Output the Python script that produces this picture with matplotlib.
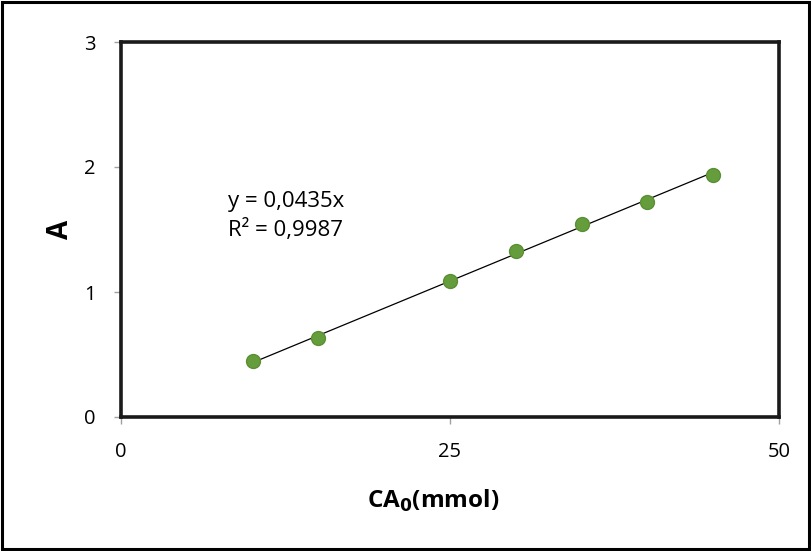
import numpy as np
import matplotlib.pyplot as plt
from matplotlib.patches import Rectangle

plt.rcParams['font.family'] = ['Open Sans', 'DejaVu Sans']

# data
conc = [10, 15, 25, 30, 35, 40, 45]
absorb = [0.449, 0.632, 1.091, 1.327, 1.545, 1.722, 1.936]
slope = 0.0435
xticks = [0, 25, 50]
yticks = [0, 1, 2, 3]

fig = plt.figure(figsize=(8.11, 5.51), dpi=100)
ax = fig.add_axes([121/811, 1 - 417/551, (779-121)/811, (417-42)/551])

# outer frame
fig.patches.append(Rectangle((0.002, 0.003), 0.996, 0.994, transform=fig.transFigure,
                             fill=False, edgecolor='black', linewidth=2.2))

xfit = np.array([conc[0], conc[-1]])
ax.plot(xfit, slope * xfit, color='black', linewidth=0.9, zorder=2)
ax.plot(conc, absorb, 'o', color='#669d3c', markeredgecolor='#5a8f33',
        markersize=10, zorder=3)

ax.set_xlim(0, 50)
ax.set_ylim(0, 3)
ax.set_xticks(xticks)
ax.set_yticks(yticks)
ax.tick_params(direction='out', length=5, width=1, color='#a0a0a0',
               labelsize=14.5, pad=13.5)
ax.tick_params(axis='x', pad=13)
for s in ax.spines.values():
    s.set_linewidth(2.6)
    s.set_color('#1a1a1a')

ax.set_xlabel('CA$_\\mathbf{0}$(mmol)', fontsize=17.5, fontweight='bold')
ax.xaxis.set_label_coords(0.474, -0.19)
ax.set_ylabel('A', fontsize=20, fontweight='bold', labelpad=6)

ax.text(8.1, 1.72, 'y = 0,0435x', fontsize=16, va='center')
ax.text(8.1, 1.496, 'R² = 0,9987', fontsize=16, va='center')

fig.savefig('out.png', dpi=100)
